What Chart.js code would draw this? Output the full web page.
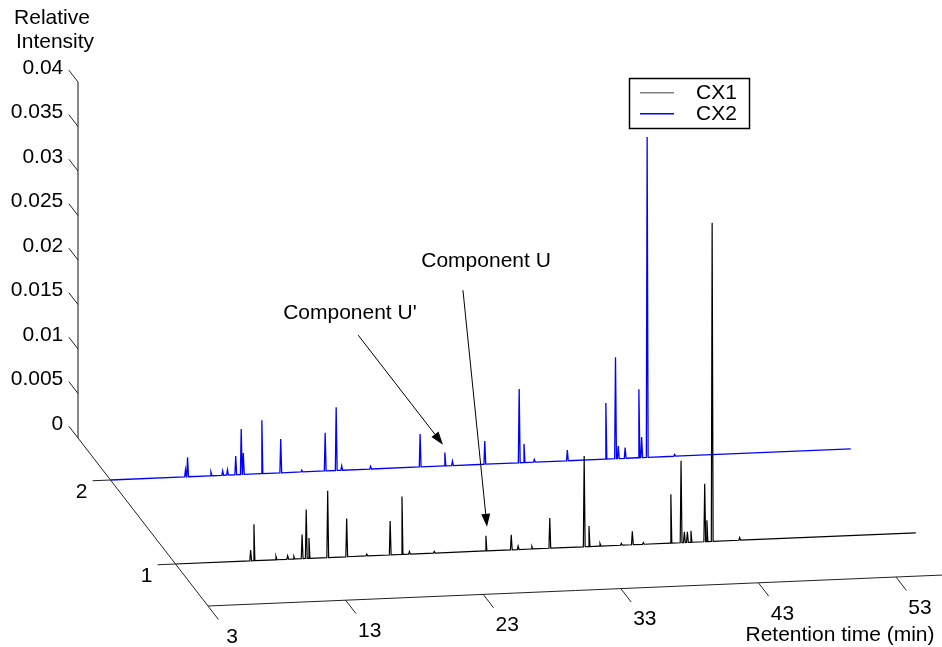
<!DOCTYPE html>
<html>
<head>
<meta charset="utf-8">
<title>Chromatograms CX1 / CX2</title>
<script src="https://cdn.jsdelivr.net/npm/chart.js@4.4.1/dist/chart.umd.min.js"></script>
<style>
  html, body { margin: 0; padding: 0; background: #fff; }
  canvas { display: block; }
</style>
</head>
<body>
<canvas id="chartCX" width="942" height="647"></canvas>
<script>
// axis ticks
const timeTicks = [3, 13, 23, 33, 43, 53];
const intensityTicks = [0, 0.005, 0.01, 0.015, 0.02, 0.025, 0.03, 0.035, 0.04];
const sampleTicks = [1, 2];

// run limits (min) and sample depth range
const runStart = 3;
const runEnd = 56.8;
const timeAxisEnd = 57;
const depthBack = 2.5;
const depthFront = 0.5;

// CX1 peaks: retention time (min) / relative intensity
const cx1Times = [8.46, 8.7, 10.3, 11.15, 11.6, 12.2, 12.5, 12.7, 14.06, 15.44, 16.9, 18.6, 19.46, 20.0,
  21.8, 25.56, 27.4, 27.9, 28.9, 30.2, 32.7, 33.05, 33.85, 35.4, 36.2, 37.0, 39.0, 39.74, 39.98, 40.2,
  40.46, 41.46, 41.62, 42.0, 44.0];
const cx1Heights = [0.0012, 0.0041, 0.0004, 0.0004, 0.0003, 0.0027, 0.0055, 0.0023, 0.0075, 0.0043, 0.0002,
  0.0038, 0.0065, 0.0003, 0.0002, 0.0017, 0.0017, 0.0004, 0.0003, 0.0034, 0.0102, 0.0023, 0.0003, 0.0002,
  0.0015, 0.0002, 0.0055, 0.0092, 0.0012, 0.0012, 0.0013, 0.0065, 0.0024, 0.0358, 0.0003];

// CX2 peaks
const cx2Times = [8.45, 8.6, 10.3, 11.15, 11.5, 12.1, 12.5, 12.65, 14.0, 15.37, 16.9, 18.6, 19.4, 19.8,
  21.9, 25.5, 27.3, 27.85, 30.2, 32.7, 33.05, 33.8, 36.2, 39.0, 39.7, 39.9, 40.4, 41.4, 41.6, 42.0, 44.0];
const cx2Heights = [0.0008, 0.0022, 0.0004, 0.0005, 0.0006, 0.0021, 0.0051, 0.0024, 0.0060, 0.0038, 0.0002,
  0.0043, 0.0071, 0.0005, 0.0003, 0.0037, 0.0015, 0.0005, 0.0026, 0.0083, 0.0021, 0.0003, 0.0012, 0.0063,
  0.0114, 0.0014, 0.0012, 0.0077, 0.0023, 0.0360, 0.0002];

const cx1Depth = 1;
const cx2Depth = 2;

// oblique view: time runs right, samples come forward, intensity goes up
const view = {
  ox: 78, oy: 438,
  tx: 13.76, ty: -0.58,
  dx: 65, dy: 84,
  vy: 8900
};

function project(t, d, v) {
  return {
    x: view.ox + (t - runStart) * view.tx + (depthBack - d) * view.dx,
    y: view.oy + (t - runStart) * view.ty + (depthBack - d) * view.dy - v * view.vy
  };
}

function buildTrace(times, heights, depth) {
  const pts = [project(runStart, depth, 0)];
  times.forEach((t, i) => {
    pts.push(project(t - 0.06, depth, 0));
    pts.push(project(t, depth, heights[i]));
    pts.push(project(t + 0.07, depth, 0));
  });
  pts.push(project(runEnd, depth, 0));
  return pts;
}

const fuente = '21px "Liberation Sans", Arial, sans-serif';

const notas = [
  { text: "Component U'", label: [20.4, cx2Depth, 0.0176], from: [21.0, cx2Depth, 0.0151], to: [27.16, cx2Depth, 0.0024] },
  { text: "Component U", label: [25.57, cx1Depth, 0.0325], from: [23.89, cx1Depth, 0.0294], to: [25.64, cx1Depth, 0.0027] }
];

function flecha(ctx, a, b) {
  const ang = Math.atan2(b.y - a.y, b.x - a.x);
  const len = 13, half = 4.5;
  ctx.beginPath();
  ctx.moveTo(a.x, a.y);
  ctx.lineTo(b.x - Math.cos(ang) * len, b.y - Math.sin(ang) * len);
  ctx.stroke();
  ctx.beginPath();
  ctx.moveTo(b.x, b.y);
  ctx.lineTo(b.x - Math.cos(ang) * len - Math.sin(ang) * half, b.y - Math.sin(ang) * len + Math.cos(ang) * half);
  ctx.lineTo(b.x - Math.cos(ang) * len + Math.sin(ang) * half, b.y - Math.sin(ang) * len - Math.cos(ang) * half);
  ctx.closePath();
  ctx.fill();
}

const ejes3d = {
  id: "ejes3d",
  beforeDatasetsDraw(chart) {
    const { ctx, scales } = chart;
    const px = (t, d, v) => {
      const p = project(t, d, v);
      return { x: scales.x.getPixelForValue(p.x), y: scales.y.getPixelForValue(p.y) };
    };
    const seg = (a, b) => {
      ctx.beginPath();
      ctx.moveTo(a.x, a.y);
      ctx.lineTo(b.x, b.y);
      ctx.stroke();
    };

    ctx.save();
    ctx.strokeStyle = "#222";
    ctx.lineWidth = 1;
    ctx.fillStyle = "#000";
    ctx.font = fuente;

    // intensity axis + ticks
    ctx.strokeStyle = "#555";
    ctx.lineWidth = 1.4;
    seg(px(runStart, depthBack, 0), px(runStart, depthBack, 0.04));
    ctx.strokeStyle = "#222";
    ctx.lineWidth = 1;
    ctx.textAlign = "right";
    ctx.textBaseline = "middle";
    intensityTicks.forEach(v => {
      seg(px(runStart, depthBack, v), px(runStart, depthBack + 0.14, v));
      const p = px(runStart, depthBack + 0.18, v);
      ctx.fillText(String(v), p.x - 3, p.y + 1);
    });

    // sample axis + ticks
    seg(px(runStart, depthBack, 0), px(runStart, depthFront, 0));
    ctx.textAlign = "center";
    sampleTicks.forEach(d => {
      seg(px(runStart, d, 0), px(runStart - 1.3, d, 0));
      const p = px(runStart - 2.1, d, -0.0012);
      ctx.fillText(String(d), p.x, p.y);
    });

    // retention time axis + ticks
    seg(px(runStart, depthFront, 0), px(timeAxisEnd, depthFront, 0));
    timeTicks.forEach(t => {
      seg(px(t, depthFront, 0), px(t, depthFront - 0.16, 0));
      const p = px(t, depthFront - 0.37, 0);
      ctx.fillText(String(t), p.x, p.y);
    });

    ctx.fillText("Retention time (min)", 840, 635);
    ctx.fillText("Relative", 52, 18);
    ctx.fillText("Intensity", 55, 42);
    ctx.restore();
  },
  afterDatasetsDraw(chart) {
    const { ctx, scales } = chart;
    const px = (t, d, v) => {
      const p = project(t, d, v);
      return { x: scales.x.getPixelForValue(p.x), y: scales.y.getPixelForValue(p.y) };
    };

    ctx.save();
    ctx.font = fuente;
    ctx.fillStyle = "#000";
    ctx.strokeStyle = "#000";
    ctx.lineWidth = 1;
    ctx.textAlign = "center";
    ctx.textBaseline = "middle";
    notas.forEach(n => {
      const l = px(...n.label);
      ctx.fillText(n.text, l.x, l.y);
      flecha(ctx, px(...n.from), px(...n.to));
    });

    // legend box
    ctx.fillStyle = "#fff";
    ctx.fillRect(629, 78, 120, 50);
    ctx.strokeStyle = "#000";
    ctx.lineWidth = 1.5;
    ctx.strokeRect(629.5, 78.5, 120, 50);
    const items = [
      { label: "CX1", color: "#808080", y: 92 },
      { label: "CX2", color: "#0000ff", y: 113 }
    ];
    ctx.textAlign = "left";
    items.forEach(it => {
      ctx.fillStyle = it.color;
      ctx.fillRect(640, it.y, 34, 1.5);
      ctx.fillStyle = "#000";
      ctx.fillText(it.label, 696, it.y + 1);
    });
    ctx.restore();
  }
};

const ctx = document.getElementById("chartCX").getContext("2d");

new Chart(ctx, {
  type: "scatter",
  data: {
    datasets: [
      {
        label: "CX1",
        data: buildTrace(cx1Times, cx1Heights, cx1Depth),
        showLine: true,
        borderColor: "#000",
        borderWidth: 1.2,
        pointRadius: 0,
        tension: 0
      },
      {
        label: "CX2",
        data: buildTrace(cx2Times, cx2Heights, cx2Depth),
        showLine: true,
        borderColor: "#0000ff",
        borderWidth: 1.3,
        pointRadius: 0,
        tension: 0
      }
    ]
  },
  options: {
    responsive: false,
    animation: false,
    devicePixelRatio: 1,
    layout: { padding: 0 },
    scales: {
      x: { type: "linear", min: 0, max: 942, display: false },
      y: { type: "linear", min: 0, max: 647, reverse: true, display: false }
    },
    plugins: {
      legend: { display: false },
      tooltip: { enabled: false }
    }
  },
  plugins: [ejes3d]
});
</script>
</body>
</html>
